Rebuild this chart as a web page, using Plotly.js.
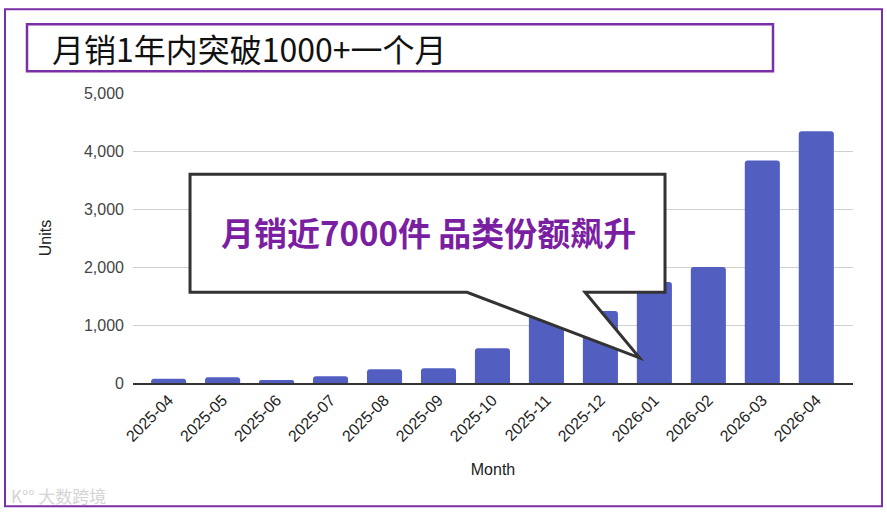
<!DOCTYPE html>
<html>
<head>
<meta charset="utf-8">
<script src="https://cdn.plot.ly/plotly-3.0.1.min.js"></script>
<style>
  html, body { margin: 0; padding: 0; background: #ffffff; }
  #chart { width: 887px; height: 514px; }
</style>
</head>
<body>
<div id="chart"></div>
<script>
// ---- data ----
const months = ['2025-04','2025-05','2025-06','2025-07','2025-08','2025-09','2025-10','2025-11','2025-12','2026-01','2026-02','2026-03','2026-04'];
const units = [75, 100, 50, 115, 235, 255, 600, 1400, 1240, 1740, 2000, 3835, 4340];
const yTicks = [0, 1000, 2000, 3000, 4000, 5000];
const titleText = '月销1年内突破1000+一个月';
const calloutText = '月销近7000件 品类份额飙升';
const xTitle = 'Month';
const yTitle = 'Units';
const watermark = 'K°° 大数跨境';

// ---- layout helpers (pixel -> paper) ----
const W = 887, H = 514;
const L = 133, R = 853, T = 92.7, B = 382.7;
const px = x => (x - L) / (R - L);
const py = y => (B - y) / (B - T);

const purple = '#7b2fa6';
const calloutPts = [[190,174],[665,174],[665,292],[585,292],[639.5,357.5],[467,292],[190,292]];
const calloutPath = calloutPts.map((p, i) => (i ? 'L' : 'M') + px(p[0]).toFixed(4) + ',' + py(p[1]).toFixed(4)).join(' ') + ' Z';

const trace = {
  type: 'bar',
  x: months,
  y: units,
  marker: { color: '#535fc0', cornerradius: 3 },
  width: 0.65,
  hoverinfo: 'x+y'
};

const layout = {
  width: W, height: H,
  margin: { l: L, r: W - R, t: T, b: H - B, pad: 0 },
  paper_bgcolor: '#ffffff',
  plot_bgcolor: '#ffffff',
  showlegend: false,
  font: { family: 'Liberation Sans, Arial, sans-serif', size: 16, color: '#444' },
  xaxis: {
    type: 'category',
    range: [-0.66, 12.68],
    tickangle: -45,
    showgrid: false,
    showline: true,
    linecolor: '#333',
    linewidth: 1.5,
    ticks: '',
    tickfont: { size: 16, color: '#222', family: 'Liberation Sans, Arial, sans-serif' },
    title: { text: xTitle, standoff: 20, font: { size: 16, color: '#222' } },
    fixedrange: true
  },
  yaxis: {
    range: [0, 5000],
    tickvals: yTicks,
    tickformat: ',',
    showgrid: true,
    gridcolor: '#d0d0d0',
    gridwidth: 1,
    zeroline: false,
    ticks: '',
    ticklabelstandoff: 8,
    tickfont: { size: 16, color: '#444' },
    title: { text: yTitle, standoff: 28, font: { size: 16, color: '#222' } },
    fixedrange: true
  },
  shapes: [
    { type: 'rect', xref: 'paper', yref: 'paper',
      x0: px(5), x1: px(882), y0: py(9), y1: py(506),
      line: { color: purple, width: 2 }, fillcolor: 'rgba(0,0,0,0)', layer: 'below' },
    { type: 'rect', xref: 'paper', yref: 'paper',
      x0: px(27), x1: px(773), y0: py(24), y1: py(71),
      line: { color: purple, width: 2.5 }, fillcolor: '#ffffff' },
    { type: 'path', xref: 'paper', yref: 'paper', path: calloutPath,
      line: { color: '#333333', width: 3 }, fillcolor: '#ffffff' }
  ],
  annotations: [
    { xref: 'paper', yref: 'paper', x: px(50), y: py(47.5), xanchor: 'left', yanchor: 'middle',
      text: titleText, showarrow: false,
      font: { family: 'Noto Sans CJK SC, sans-serif', size: 32, color: '#111' } },
    { xref: 'paper', yref: 'paper', x: px(428), y: py(232), xanchor: 'center', yanchor: 'middle',
      text: '<b>' + calloutText + '</b>', showarrow: false,
      font: { family: 'Noto Sans CJK SC, sans-serif', size: 33, color: '#7b1fa2' } },
    { xref: 'paper', yref: 'paper', x: px(9), y: py(495), xanchor: 'left', yanchor: 'middle',
      text: watermark, showarrow: false,
      font: { family: 'Noto Sans CJK SC, sans-serif', size: 17, color: '#d4d4d4' } }
  ]
};

Plotly.newPlot('chart', [trace], layout, { displayModeBar: false, staticPlot: true });
</script>
</body>
</html>
